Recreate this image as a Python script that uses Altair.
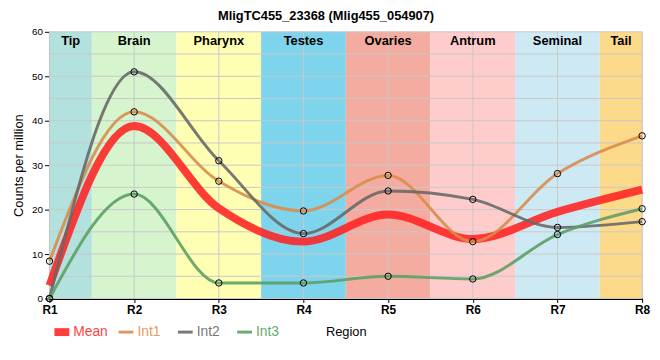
import altair as alt
import pandas as pd

# ---- data ----
regions = ["R1", "R2", "R3", "R4", "R5", "R6", "R7", "R8"]
mean = [2.9, 38.8, 20.3, 12.8, 18.9, 13.4, 19.5, 24.5]
int1 = [8.4, 42.0, 26.4, 19.7, 27.7, 12.8, 28.1, 36.6]
int2 = [0.0, 51.0, 31.0, 14.6, 24.2, 22.3, 16.0, 17.3]
int3 = [0.0, 23.5, 3.5, 3.5, 5.0, 4.4, 14.4, 20.2]

band_names = ["Tip", "Brain", "Pharynx", "Testes", "Ovaries", "Antrum", "Seminal", "Tail"]
band_colors = ["#b3e2de", "#d6f5ce", "#ffffb4", "#7ed4ec", "#f5aca0", "#ffcccc", "#cdeaf4", "#fdd98a"]

series_names = ["Mean", "Int1", "Int2", "Int3"]
series_colors = ["#ff2222", "#d98b4b", "#666666", "#5a9e62"]
label_colors = ["#ff4444", "#e69a5c", "#777777", "#66aa6e"]
series_widths = [8, 3, 3, 3]

y_ticks = list(range(0, 65, 5))
title_text = "MligTC455_23368 (Mlig455_054907)"

FONT = "Liberation Sans"

# ---- layout constants (pixels) ----
W, H = 600, 270
legend_px = [5, 70, 130, 190]   # left edge of each legend swatch, from plot's left edge
swatch_len = 15
legend_y = 304

# ---- tables ----
values = {"Mean": mean, "Int1": int1, "Int2": int2, "Int3": int3}
rows = []
for s in series_names:
    for i, r in enumerate(regions):
        rows.append({"series": s, "pos": i + 1, "region": r, "value": values[s][i]})
df = pd.DataFrame(rows)
pts = df[df["series"] != "Mean"]

n = len(regions)
px_to_x = (n - 1) / W

bands = pd.DataFrame({
    "name": band_names,
    "color": band_colors,
    "x0": [max(i + 1 - 0.5, 1) for i in range(n)],
    "x1": [min(i + 1 + 0.5, n) for i in range(n)],
})
bands["mid"] = (bands["x0"] + bands["x1"]) / 2

grid_y = pd.DataFrame({"v": y_ticks})
grid_x = pd.DataFrame({"pos": list(range(1, n + 1))})

leg = pd.DataFrame({
    "name": series_names,
    "color": series_colors,
    "lcolor": label_colors,
    "w": series_widths,
    "sx0": [1 + p * px_to_x for p in legend_px],
    "sx1": [1 + (p + swatch_len) * px_to_x for p in legend_px],
    "tx": [1 + (p + swatch_len + 4) * px_to_x for p in legend_px],
})

label_arr = "[" + ",".join("'" + r + "'" for r in regions) + "]"

xscale = alt.Scale(domain=[1, n], nice=False, zero=False)
yscale = alt.Scale(domain=[0, 60], nice=False)

x_axis = alt.Axis(
    values=list(range(1, n + 1)),
    labelExpr=label_arr + "[datum.value - 1]",
    grid=False, title="Region", labelFontSize=12, labelFontWeight="bold",
    labelColor="black", titleFontSize=13, titleFontWeight="normal",
    titleColor="black", domainColor="black", domainWidth=2, tickColor="black",
    tickSize=4, labelPadding=2, titlePadding=10, labelFlush=False,
)
y_axis = alt.Axis(
    values=y_ticks, tickCount=len(y_ticks) - 1, labelOverlap=False,
    grid=False, title="Counts per million", labelFontSize=10,
    labelColor="black", titleFontSize=13, titleFontWeight="normal",
    titleColor="black", domainColor="black", domainWidth=2, tickColor="black",
    tickSize=5, labelPadding=2, titlePadding=6,
)

bands_layer = alt.Chart(bands).mark_rect().encode(
    x=alt.X("x0:Q", scale=xscale, axis=x_axis),
    x2="x1:Q",
    y=alt.datum(0, scale=yscale, axis=y_axis),
    y2=alt.datum(60),
    color=alt.Color("color:N", scale=None, legend=None),
)

band_text = alt.Chart(bands).mark_text(
    font=FONT, fontSize=13, fontWeight="bold", color="black", baseline="middle"
).encode(
    x=alt.X("mid:Q", axis=x_axis),
    y=alt.value(9),
    text="name:N",
)

hgrid = alt.Chart(grid_y).mark_rule(color="#c8c8c8", strokeWidth=1).encode(
    y=alt.Y("v:Q", axis=y_axis)
)
vgrid = alt.Chart(grid_x).mark_rule(color="#c8c8c8", strokeWidth=1).encode(
    x=alt.X("pos:Q", axis=x_axis)
)

lines = alt.Chart(df).mark_line(interpolate="monotone", opacity=0.88).encode(
    x=alt.X("pos:Q", axis=x_axis),
    y=alt.Y("value:Q", axis=y_axis),
    color=alt.Color("series:N", scale=alt.Scale(domain=series_names, range=series_colors), legend=None),
    strokeWidth=alt.StrokeWidth("series:N", scale=alt.Scale(type="ordinal", domain=series_names, range=series_widths), legend=None),
    order=alt.Order("series:N", sort="descending"),
)

points = alt.Chart(pts).mark_point(
    shape="circle", filled=False, color="black", size=42, strokeWidth=1, opacity=1
).encode(
    x=alt.X("pos:Q", axis=x_axis),
    y=alt.Y("value:Q", axis=y_axis),
)

# legend (swatches + coloured labels), below the x axis
leg_sw = alt.Chart(leg).mark_rule(opacity=0.88).encode(
    x=alt.X("sx0:Q", axis=x_axis),
    x2="sx1:Q",
    y=alt.value(legend_y),
    color=alt.Color("color:N", scale=None, legend=None),
    strokeWidth=alt.StrokeWidth("w:Q", scale=None, legend=None),
)
leg_tx = alt.Chart(leg).mark_text(
    font=FONT, fontSize=14, align="left", baseline="middle"
).encode(
    x=alt.X("tx:Q", axis=x_axis),
    y=alt.value(legend_y),
    text="name:N",
    color=alt.Color("lcolor:N", scale=None, legend=None),
)

chart = alt.layer(bands_layer, hgrid, vgrid, band_text, lines, points, leg_sw, leg_tx).properties(
    width=W, height=H,
    padding={"left": 42, "top": 22, "right": 10, "bottom": 50},
    autosize=alt.AutoSizeParams(type="none"),
    title=alt.Title(title_text, font=FONT, fontSize=13, fontWeight="bold",
                    color="black", anchor="middle", dx=-20, offset=4),
).configure_view(stroke="black", strokeWidth=1.5).configure(font=FONT)

chart.save("out.html", embed_options={"renderer": "svg", "actions": False})
